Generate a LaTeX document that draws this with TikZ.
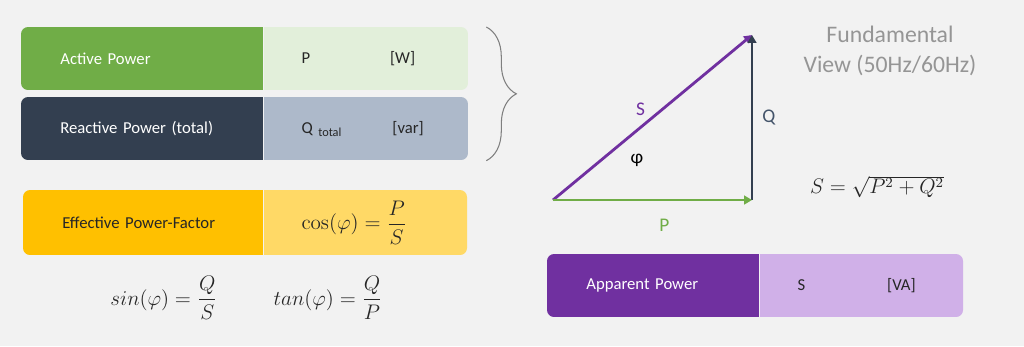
\documentclass[tikz,border=0pt]{standalone}
\usepackage[no-math]{fontspec}
\setmainfont{Carlito}
\usepackage{tikz}
\usetikzlibrary{positioning,arrows.meta,decorations.pathreplacing,calc}
\definecolor{fond}{HTML}{F2F2F2}
\definecolor{vertFonce}{HTML}{70AD47}
\definecolor{vertClair}{HTML}{E2EFDA}
\definecolor{ardoiseFonce}{HTML}{333F50}
\definecolor{ardoiseClair}{HTML}{ADB9CA}
\definecolor{ardoiseTexte}{HTML}{44546A}
\definecolor{orFonce}{HTML}{FFC000}
\definecolor{orClair}{HTML}{FFD966}
\definecolor{violetFonce}{HTML}{7030A0}
\definecolor{violetClair}{HTML}{D0B0E8}
\definecolor{texteFonce}{HTML}{262626}
\definecolor{grisTexte}{HTML}{959595}
\definecolor{grisAccolade}{HTML}{7F7F7F}
\tikzset{
  cle/.style={
    rectangle, inner xsep=0.78cm, inner ysep=0pt, minimum height=1.26cm,
    align=left, text=white, font=\fontsize{9.5}{11}\selectfont},
  valeur/.style={
    rectangle, inner xsep=0.75cm, inner ysep=0pt, minimum height=1.26cm,
    text width=2.6cm, align=left, text=texteFonce, font=\fontsize{9.5}{11}\selectfont},
  fleche/.style={-{Triangle[length=4.5pt, width=5pt]}, line width=1.6pt},
  etiquette/.style={font=\fontsize{11}{13}\selectfont, inner sep=0pt},
  formule/.style={font=\fontsize{11.5}{14}\selectfont, inner sep=0pt, text=texteFonce},
  accolade/.style={decorate, decoration={brace, amplitude=0.6cm},
    draw=grisAccolade, line width=0.6pt}
}
\begin{document}
\begin{tikzpicture}[x=0.02cm, y=-0.02cm]

  \fill[fond] (0,0) rectangle (1024,346);

  % --- Puissance active
  \begin{scope}
    \clip[rounded corners=4pt] (21,27) rectangle (468,90);
    \node[cle, fill=vertFonce, text width=3.28cm, anchor=north west] (actif) at (21,27) {Active Power};
    \node[valeur, fill=vertClair, right=0pt of actif] (actifVal) {P\hspace{1.6cm}[W]};
  \end{scope}

  % --- Puissance reactive
  \begin{scope}
    \clip[rounded corners=4pt] (21,97) rectangle (468,160);
    \node[cle, fill=ardoiseFonce, text width=3.28cm, anchor=north west] (reactif) at (21,97) {Reactive Power (total)};
    \node[valeur, fill=ardoiseClair, right=0pt of reactif] (reactifVal)
      {Q \raisebox{-0.4ex}{\fontsize{7}{8}\selectfont total}\hspace{1.02cm}[var]};
  \end{scope}

  % --- Facteur de puissance
  \begin{scope}
    \clip[rounded corners=4pt] (23,190) rectangle (467,255);
    \node[cle, fill=orFonce, text=texteFonce, text width=3.24cm, minimum height=1.3cm,
          anchor=north west] (facteur) at (23,190) {Effective Power-Factor};
    \node[valeur, fill=orClair, minimum height=1.3cm, right=0pt of facteur] (facteurVal)
      {\fontsize{11.5}{14}\selectfont$\displaystyle\cos(\varphi)=\frac{P}{S}$};
  \end{scope}

  % --- Puissance apparente
  \begin{scope}
    \clip[rounded corners=4pt] (547,254) rectangle (963,317);
    \node[cle, fill=violetFonce, text width=2.68cm, anchor=north west] (apparent) at (547,254) {Apparent Power};
    \node[valeur, fill=violetClair, right=0pt of apparent] (apparentVal) {S\hspace{1.64cm}[VA]};
  \end{scope}

  % --- Accolade P + Q
  \draw[accolade] ($(actifVal.north east)+(17,0)$) -- ($(reactifVal.south east)+(17,0)$);

  % --- Triangle des puissances
  \coordinate (origine) at (553,200);
  \coordinate (coin)    at (752,200);
  \coordinate (sommet)  at (752,35);
  \draw[fleche, violetFonce] (origine)
        -- node[etiquette, pos=0.44, above=0.2cm, text=violetFonce] {S} (sommet);
  \draw[fleche, ardoiseFonce] (coin)
        -- node[etiquette, right=0.18cm, text=ardoiseTexte] {Q} (sommet);
  \draw[fleche, vertFonce] (origine)
        -- node[etiquette, pos=0.56, below=0.36cm, text=vertFonce] {P} (coin);
  \node[etiquette, text=black] (phi) at (637,160) {φ};

  % --- Titre et formules
  \node[font=\fontsize{13.5}{17}\selectfont, text=grisTexte, align=center] (titre)
        at (890,51) {Fundamental\\View (50Hz/60Hz)};
  \node[formule, font=\fontsize{12}{14}\selectfont] (pythagore) at (877,187) {$S=\sqrt{P^2+Q^2}$};
  \node[formule] (sinus)    at (164,298) {$\displaystyle sin(\varphi)=\frac{Q}{S}$};
  \node[formule] (tangente) at (328,298) {$\displaystyle tan(\varphi)=\frac{Q}{P}$};

\end{tikzpicture}
\end{document}
